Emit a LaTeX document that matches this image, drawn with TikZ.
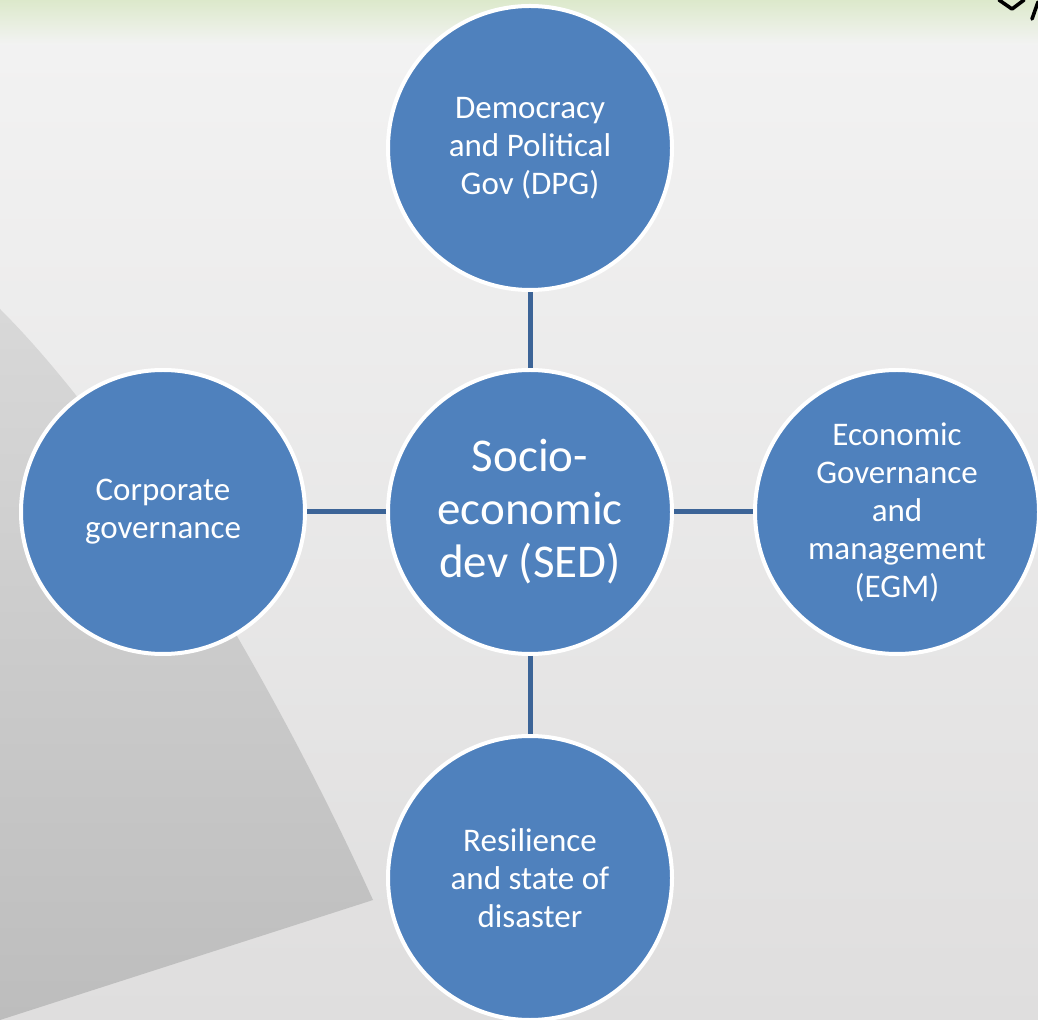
\documentclass[tikz,border=0pt]{standalone}
\usepackage{fontspec}
\setmainfont{Carlito}
\usetikzlibrary{calc}

\definecolor{bubfill}{HTML}{4F81BD}
\definecolor{spoke}{HTML}{3C6497}
\definecolor{bgtop}{HTML}{F3F3F3}
\definecolor{bgbot}{HTML}{DFDEDE}
\definecolor{bandgreen}{HTML}{DCE9CB}
\definecolor{wedgetop}{HTML}{D8D8D8}
\definecolor{wedgebot}{HTML}{BDBDBD}

\tikzset{
  bub/.style={circle,fill=bubfill,draw=white,line width=2pt,minimum size=142pt,
    inner sep=0pt,text=white,align=center,font=\fontsize{16.5}{19}\selectfont},
  hub/.style={bub,font=\fontsize{23.5}{26.5}\selectfont},
  spokeline/.style={draw=spoke,line width=2.5pt}
}

\begin{document}
\begin{tikzpicture}[x=0.5pt,y=-0.5pt]
  % backdrop
  \useasboundingbox (0,0) rectangle (1038,1020);
  \shade[top color=bgtop,bottom color=bgbot] (0,0) rectangle (1038,1020);
  \shade[top color=bandgreen,bottom color=bgtop] (0,0) rectangle (1038,45);
  \shade[top color=wedgetop,bottom color=wedgebot]
    (0,309) .. controls (130,439) and (273,680) .. (373,900) -- (0,1020) -- cycle;
  \draw[line width=1.8pt,line cap=round,line join=round] (999,0) -- (1012,9) -- (1024,0);
  \draw[line width=1.8pt,line cap=round] (1032,19) -- (1038,2);

  % circles
  \node[hub] (SED) at (530,512) {Socio-\\economic\\dev (SED)};
  \node[bub] (DPG) at (530,148) {Democracy\\and Political\\Gov (DPG)};
  \node[bub] (CG)  at (163,512) {Corporate\\governance};
  \node[bub] (EGM) at (897,512) {Economic\\Governance\\and\\management\\(EGM)};
  \node[bub] (RSD) at (530,878) {Resilience\\and state of\\disaster};

  % spokes
  \draw[spokeline] (SED) -- (DPG);
  \draw[spokeline] (SED) -- (CG);
  \draw[spokeline] (SED) -- (EGM);
  \draw[spokeline] (SED) -- (RSD);
\end{tikzpicture}
\end{document}
